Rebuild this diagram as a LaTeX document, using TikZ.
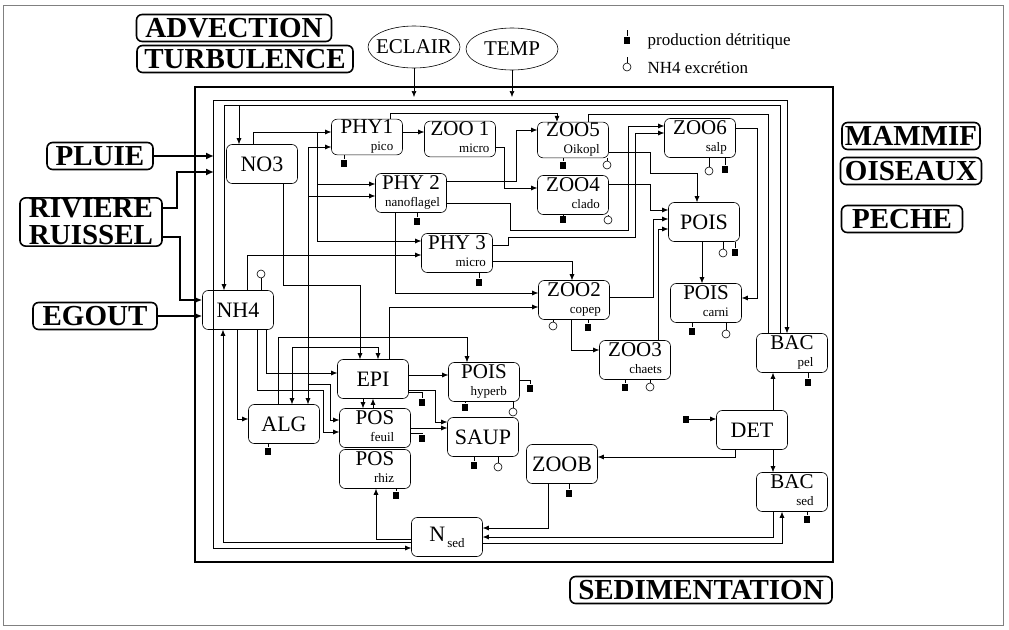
\documentclass[tikz,border=0pt]{standalone}
\usepackage{fontspec}
\setmainfont{Liberation Serif}
\usetikzlibrary{arrows.meta,shapes.geometric}

\newcommand{\subfont}{\fontsize{13}{13}\selectfont}
\newcommand{\cpt}[2]{{\fontsize{21}{16}\selectfont\begin{tabular}{@{}r@{}}#1\\[1pt]{\subfont #2}\end{tabular}}}

\tikzset{
  detritus/.style = {fill, minimum width=6pt, minimum height=7pt, inner sep=0pt},
  excretion/.style = {draw, circle, minimum size=8pt, inner sep=0pt, fill=white},
  inflow/.style = {-{Latex[length=8pt,width=7pt]}, line width=1.6pt}
}

\begin{document}
\begin{tikzpicture}[x=1pt, y=-1pt, >={Latex[length=6pt,width=5pt]}, line width=0.6pt]
    \useasboundingbox (0,0) rectangle (1009,629);
    \draw[gray, thin] (3,5) rectangle (1003,625);
    \coordinate (frameL) at (214,0);
    \coordinate (frameT) at (0,97);
    % forcages
    \begin{scope}[every node/.style = {draw, line width=1.6pt, rounded corners=2mm, inner sep=1pt,
        minimum height=27pt, align=center, font=\bfseries\fontsize{29}{27}\selectfont}]
      \node[minimum width=195pt] (advection)     at (234,28)  {ADVECTION};
      \node[minimum width=216pt] (turbulence)    at (245,59)  {TURBULENCE};
      \node[minimum width=138pt] (mammif)        at (911,136) {MAMMIF};
      \node[minimum width=141pt] (oiseaux)       at (911,171) {OISEAUX};
      \node[minimum width=121pt] (peche)         at (902,219) {PECHE};
      \node[minimum width=106pt] (pluie)         at (100,156) {PLUIE};
      \node[minimum width=142pt] (riviere)       at (91,222)  {RIVIERE\\RUISSEL};
      \node[minimum width=124pt] (egout)         at (95,316)  {EGOUT};
      \node[minimum width=262pt] (sedimentation) at (701,590) {SEDIMENTATION};
    \end{scope}
    \begin{scope}[every node/.style = {draw, ellipse, minimum width=92pt, minimum height=42pt,
        inner xsep=-9pt, inner ysep=0pt, font=\fontsize{21}{21}\selectfont}]
      \node (eclair) at (414,47) {ECLAIR};
      \node (temp)   at (512,49) {TEMP};
    \end{scope}
    % legende
    \node[detritus] (legDet) at (627,40) {};
    \node[excretion] (legExc) at (627,67) {};
    \draw (legDet.north) -- ++(0,-6);
    \draw (legExc.north) -- ++(0,-6);
    \node[anchor=west, font=\fontsize{17}{17}\selectfont] (legDetText) at (644,41) {production détritique};
    \node[anchor=west, font=\fontsize{17}{17}\selectfont] (legExcText) at (644,68) {NH4 excrétion};
    % domaine
    \draw[line width=2pt] (195,87) rectangle (833,562);
    \begin{scope}[every node/.style = {draw, rounded corners=2mm, minimum width=71pt, minimum height=39pt,
        inner sep=0pt, fill=white, font=\fontsize{22}{17}\selectfont}]
      \node (no3)        at (262,164) {NO3};
      \node (nh4)        at (238,310) {NH4};
      \node[minimum height=35pt] (phy1) at (367,137) {\cpt{PHY1}{pico}};
      \node[minimum height=35pt] (zoo1) at (460,139) {\cpt{ZOO 1}{micro}};
      \node (phy2)       at (411,193) {\cpt{PHY 2}{nanoflagel}};
      \node (phy3)       at (457,253) {\cpt{PHY 3}{micro}};
      \node[minimum height=35pt] (zoo5) at (573,140) {\cpt{ZOO5}{Oikopl}};
      \node (zoo4)       at (573,195) {\cpt{ZOO4}{clado}};
      \node (zoo6)       at (700,138) {\cpt{ZOO6}{salp}};
      \node (pois)       at (704,222) {POIS};
      \node (zoo2)       at (574,300) {\cpt{ZOO2}{copep}};
      \node (poisCarni)  at (706,303) {\cpt{POIS}{carni}};
      \node (zoo3)       at (635,360) {\cpt{ZOO3}{chaets}};
      \node (bacPel)     at (792,353) {\cpt{BAC}{pel}};
      \node (det)        at (752,430) {DET};
      \node (bacSed)     at (792,492) {\cpt{BAC}{sed}};
      \node (epi)        at (373,379) {EPI};
      \node (poisHyperb) at (484,382) {\cpt{POIS}{hyperb}};
      \node (alg)        at (284,424) {ALG};
      \node (posFeuil)   at (375,428) {\cpt{POS}{feuil}};
      \node (saup)       at (483,437) {SAUP};
      \node (posRhiz)    at (375,469) {\cpt{POS}{rhiz}};
      \node (zoob)       at (562,464) {ZOOB};
      \node (nSed)       at (447,537) {N\raisebox{-6pt}{\subfont\,sed}};
    \end{scope}
    % apports
    \draw[inflow] (pluie) -- (pluie -| frameL);
    \draw[inflow] (riviere.east |- 0,208) -- (177,208) |- (frameL |- 0,172);
    \draw[inflow] (riviere.east |- 0,237) -- (180,237) |- (nh4.west |- 0,300);
    \draw[inflow] (egout) -- (egout -| nh4.west);
    \draw[->] (eclair) -- (eclair |- frameT);
    \draw[->] (temp) -- (temp |- frameT);
    % boucles du bord
    \draw[<->] (nSed.west |- 0,548) -| (213,100) -| (bacPel.north -| 787,0);
    \draw[->] (bacPel.north -| 780,0) |- (224,105) -- (nh4.north -| 224,0);
    \draw[->] (239,105) -- (no3.north -| 239,0);
    \draw (zoo5.north -| 588,0) |- (768,114) -- (bacPel.north -| 768,0);
    % nutriments
    \draw[->] (no3.north -| 253,0) |- (phy1.west |- 0,132);
    \draw[->] (317,132) |- (phy3.west |- 0,241);
    \draw[->] (317,184) -- (phy2.west |- 0,184);
    \draw[->] (nh4.north -| 247,0) |- (phy3.west |- 0,255);
    \draw[->] (308,255) |- (phy1.west |- 0,147);
    \draw[->] (308,196) -- (phy2.west |- 0,196);
    \draw[->] (308,255) -- (alg.north -| 308,0);
    \draw[->] (no3.south -| 283,0) |- (360,285) -- (epi.north -| 360,0);
    \draw[->] (nh4.south -| 237,0) |- (alg.west |- 0,419);
    \draw[->] (nh4.south -| 266,0) |- (epi.west |- 0,373);
    \draw[->] (nh4.south -| 257,0) |- (323,390) |- (posFeuil.west |- 0,432);
    \draw[->] (308,384) -- (330,384) |- (posFeuil.west |- 0,420);
    % reseau pelagique
    \draw[->] (phy1.east |- 0,132) -- (zoo1.west |- 0,132);
    \draw[->] (phy1.north -| 390,0) |- (557,113) -- (zoo5.north -| 557,0);
    \draw[->] (zoo1.east |- 0,147) -- (504,147) |- (zoo4.west |- 0,188);
    \draw[->] (phy2.east |- 0,181) -- (516,181) |- (zoo5.west |- 0,130);
    \draw[->] (phy2.east |- 0,203) -- (510,203) |- (628,230) |- (zoo6.west |- 0,126);
    \draw[->] (phy3.east |- 0,245) -- (508,245) |- (635,237) |- (zoo6.west |- 0,133);
    \draw[->] (phy3.east |- 0,261) -| (zoo2.north -| 572,0);
    \draw[->] (phy2.south -| 395,0) |- (zoo2.west |- 0,293);
    \draw[->] (epi.north -| 389,0) |- (zoo2.west |- 0,307);
    \draw[->] (zoo5.east |- 0,152) -- (650,152) |- (697,173) -- (pois.north -| 697,0);
    \draw[->] (zoo4.east |- 0,184) -- (650,184) |- (pois.west |- 0,210);
    \draw[->] (zoo2.east |- 0,297) -- (653,297) |- (pois.west |- 0,219);
    \draw[->] (zoo3.north -| 658,0) |- (pois.west |- 0,229);
    \draw[->] (zoo6.east |- 0,128) -- (757,128) |- (poisCarni.east |- 0,298);
    \draw[->] (pois.south -| 702,0) -- (poisCarni.north -| 702,0);
    \draw[->] (zoo2.south -| 571,0) |- (zoo3.west |- 0,350);
    % reseau littoral
    \draw[->] (alg.north -| 278,0) |- (467,337) -- (poisHyperb.north -| 467,0);
    \draw[<->] (alg.north -| 292,0) |- (378,347) -- (epi.north -| 378,0);
    \draw[->] (epi.east |- 0,375) -- (poisHyperb.west |- 0,375);
    \draw[->] (epi.east |- 0,390) -- (435,390) |- (saup.west |- 0,422);
    \draw[->] (posFeuil.east |- 0,428) -- (saup.west |- 0,428);
    \draw[->] (epi.south -| 363,0) -- (posFeuil.north -| 363,0);
    \draw[->] (posFeuil.north -| 373,0) -- (epi.south -| 373,0);
    % detritus et sediment
    \node[detritus] (detIn) at (686,419) {};
    \draw[->] (detIn) -- (det.west |- detIn);
    \draw[->] (det.north -| 773,0) -- (bacPel.south -| 773,0);
    \draw[->] (det.south -| 773,0) -- (bacSed.north -| 773,0);
    \draw[->] (det.south -| 735,0) |- (zoob.east |- 0,457);
    \draw[->] (zoob.south -| 548,0) |- (nSed.east |- 0,528);
    \draw[->] (bacSed.south -| 773,0) |- (nSed.east |- 0,537);
    \draw[->] (nSed.east |- 0,543) -| (bacSed.south -| 782,0);
    \draw[->] (nSed.west |- 0,539) -| (posRhiz.south -| 376,0);
    \draw[->] (nSed.west |- 0,542) -| (nh4.south -| 223,0);
    % production detritique et excretion
    \foreach \nm/\x/\y in {phy1/344/163, phy2/417/221, phy3/479/282, zoo5/563/165, zoo4/563/219,
        zoo6/725/169, pois/735/252, poisCarni/692/331, zoo2/588/327, zoo3/625/387, bacPel/808/382,
        bacSed/807/519, alg/268/451, posRhiz/396/495, zoob/569/493, saup/474/465, poisHyperb/465/407} {
      \node[detritus] (d\nm) at (\x,\y) {};
      \draw (d\nm) -- (d\nm |- \nm.south);
    }
    \foreach \nm/\x/\y in {zoo5/607/165, zoo4/608/220, zoo6/709/171, pois/723/253, poisCarni/726/334,
        zoo2/553/326, zoo3/650/387, saup/498/467, poisHyperb/513/412} {
      \node[excretion] (e\nm) at (\x,\y) {};
      \draw (e\nm) -- (e\nm |- \nm.south);
    }
    \node[detritus] (dEpi) at (422,402) {};
    \draw (epi.east |- 0,392) -| (dEpi);
    \node[detritus] (dPosFeuil) at (422,438) {};
    \draw (posFeuil.east |- 0,433) -| (dPosFeuil);
    \node[detritus] (dPoisHyperbR) at (530,388) {};
    \draw (poisHyperb.east |- 0,380) -| (dPoisHyperbR);
    \node[excretion] (eNh4) at (261,274) {};
    \draw (eNh4) -- (eNh4 |- nh4.north);
\end{tikzpicture}
\end{document}
